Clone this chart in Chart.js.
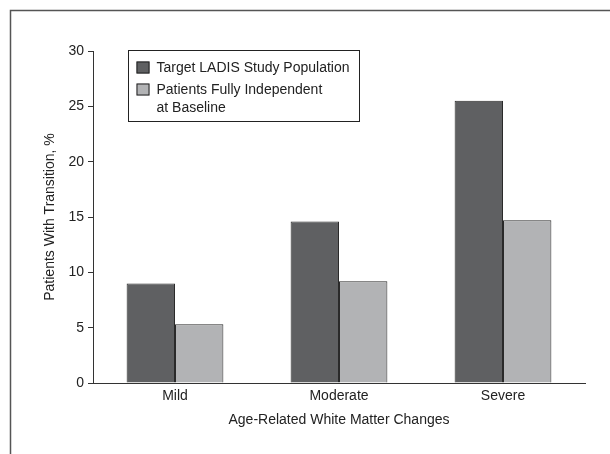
<!DOCTYPE html>
<html><head><meta charset="utf-8">
<script src="https://cdn.jsdelivr.net/npm/chart.js@4.4.1/dist/chart.umd.min.js"></script>
<style>html,body{margin:0;padding:0;background:#fff}#wrap{width:610px;height:454px;position:relative}canvas{display:block}</style>
</head><body><div id="wrap"><canvas id="c" width="610" height="454"></canvas></div>
<script>
const categories = ['Mild', 'Moderate', 'Severe'];
const seriesNames = ['Target LADIS Study Population', 'Patients Fully Independent\nat Baseline'];
const targetValues = [9.0, 14.6, 25.5];
const independentValues = [5.3, 9.2, 14.7];
const yTicks = [0, 5, 10, 15, 20, 25, 30];
const xTitle = 'Age-Related White Matter Changes';
const yTitle = 'Patients With Transition, %';

const FONT = "'Liberation Sans', Arial, sans-serif";
const fills = ['#5f6062', '#b2b3b5'];

const framePlugin = {
  id: 'frame',
  afterDraw(chart) {
    const ctx = chart.ctx;
    ctx.save();
    ctx.strokeStyle = '#555';
    ctx.lineWidth = 1.5;
    ctx.beginPath();
    ctx.moveTo(10.5, 454);
    ctx.lineTo(10.5, 10.5);
    ctx.lineTo(610, 10.5);
    ctx.stroke();
    ctx.restore();
  }
};

const legendPlugin = {
  id: 'boxLegend',
  afterDraw(chart) {
    const ctx = chart.ctx;
    const ca = chart.chartArea;
    const x0 = ca.left + 35.5, y0 = ca.top - 0.5, w = 231, h = 71;
    ctx.save();
    ctx.strokeStyle = '#222';
    ctx.lineWidth = 1;
    ctx.fillStyle = '#fff';
    ctx.fillRect(x0, y0, w, h);
    ctx.strokeRect(x0, y0, w, h);
    ctx.font = '14px ' + FONT;
    ctx.textBaseline = 'alphabetic';
    let baseline = y0 + 21;
    chart.data.datasets.forEach((ds, i) => {
      const lines = ds.label.split('\n');
      ctx.fillStyle = ds.backgroundColor;
      ctx.fillRect(x0 + 8, baseline - 10, 13, 12);
      ctx.strokeStyle = '#222';
      ctx.strokeRect(x0 + 8.5, baseline - 9.5, 12, 11);
      ctx.fillStyle = '#222';
      lines.forEach((ln, j) => {
        ctx.fillText(ln, x0 + 28, baseline + j * 18);
      });
      baseline += (lines.length - 1) * 18 + 22;
    });
    ctx.restore();
  }
};

new Chart(document.getElementById('c'), {
  type: 'bar',
  data: {
    labels: categories,
    datasets: [
      { label: seriesNames[0], data: targetValues, backgroundColor: fills[0], borderColor: '#2a2a2a', borderWidth: 1, categoryPercentage: 0.59, barPercentage: 1 },
      { label: seriesNames[1], data: independentValues, backgroundColor: fills[1], borderColor: '#2a2a2a', borderWidth: 1, categoryPercentage: 0.59, barPercentage: 1 }
    ]
  },
  options: {
    responsive: false,
    animation: false,
    devicePixelRatio: 1,
    layout: { padding: { left: 10, top: 51, right: 25, bottom: 0 } },
    plugins: { legend: { display: false }, tooltip: { enabled: false } },
    scales: {
      x: {
        grid: { display: true, drawOnChartArea: false, drawTicks: false },
        border: { display: true, color: '#333', width: 1 },
        ticks: { color: '#222', font: { family: FONT, size: 14 }, padding: 5 },
        title: { display: true, text: xTitle, color: '#222', font: { family: FONT, size: 14 }, padding: { top: 2, bottom: 25 } },
        afterFit: s => { s.height = 71; }
      },
      y: {
        min: 0, max: 30,
        afterBuildTicks: s => { s.ticks = yTicks.map(v => ({ value: v })); },
        grid: { display: true, drawOnChartArea: false, drawTicks: true, tickLength: 5, color: '#333' },
        border: { display: true, color: '#333', width: 1 },
        ticks: { color: '#222', font: { family: FONT, size: 14 }, padding: 4 },
        title: { display: true, text: yTitle, color: '#222', font: { family: FONT, size: 14 }, padding: { top: 32, bottom: 0 } },
        afterFit: s => { s.width = 83; }
      }
    }
  },
  plugins: [framePlugin, legendPlugin]
});
</script>
</body></html>
